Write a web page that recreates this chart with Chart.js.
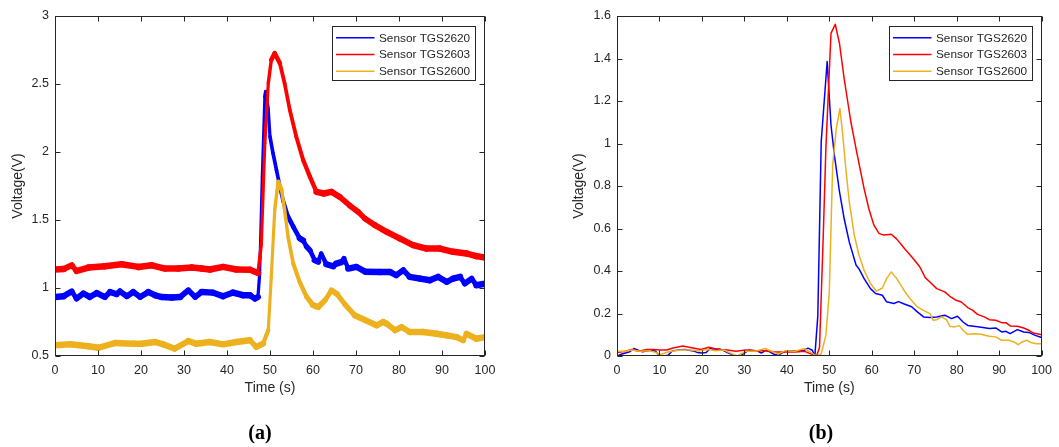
<!DOCTYPE html>
<html>
<head>
<meta charset="utf-8">
<title>Sensor response</title>
<script src="https://cdn.jsdelivr.net/npm/chart.js@4.4.1/dist/chart.umd.min.js"></script>
<style>
  html, body { margin: 0; padding: 0; background: #fff; }
  body { width: 1059px; height: 447px; position: relative; overflow: hidden; }
  canvas { position: absolute; top: 0; }
  #chartA { left: 0; }
  #chartB { left: 530px; }
  .panel-label {
    position: absolute; top: 421px; width: 60px; margin-left: -30px;
    text-align: center; font: bold 20px "Liberation Serif", serif; color: #000;
  }
</style>
</head>
<body>
<canvas id="chartA" width="530" height="447"></canvas>
<canvas id="chartB" width="529" height="447"></canvas>
<div class="panel-label" style="left:260px">(a)</div>
<div class="panel-label" style="left:821px">(b)</div>

<script>
// Legend names, in plotting order
const sensorNames = ['Sensor TGS2620', 'Sensor TGS2603', 'Sensor TGS2600'];

// (a) raw sensor voltage, time in seconds
const rawT2620 = [0, 2, 3.9, 5, 6.6, 8.1, 9.7, 11.6, 12.8, 14.3, 15.1, 16.7, 18.2, 19.8, 21.7, 23.3, 24.8, 27.1, 29.1, 31, 32.6, 34.1, 36.7, 39.1, 41.4, 43.7, 45.3, 46.5, 47.2, 47.6, 48.2, 48.8, 49, 49.6, 50, 50.7, 51.5, 52.3, 53, 54.2, 55.4, 56.9, 57.7, 58.5, 59.3, 60.4, 61.2, 61.9, 63.1, 64.7, 65.4, 66.6, 67.2, 68.2, 70.1, 72.2, 75.5, 77.9, 79.4, 81, 82.5, 84.9, 87.2, 89.1, 91.1, 92.6, 94.2, 95.3, 96.9, 98, 100];
const rawV2620 = [0.934, 0.94, 0.975, 0.922, 0.96, 0.934, 0.963, 0.934, 0.971, 0.955, 0.975, 0.94, 0.971, 0.934, 0.971, 0.946, 0.934, 0.93, 0.934, 0.983, 0.934, 0.971, 0.966, 0.94, 0.966, 0.947, 0.947, 0.922, 0.934, 1.106, 1.818, 2.407, 2.444, 2.31, 2.113, 1.991, 1.868, 1.745, 1.647, 1.525, 1.451, 1.365, 1.35, 1.304, 1.277, 1.204, 1.193, 1.253, 1.175, 1.16, 1.179, 1.19, 1.218, 1.143, 1.155, 1.12, 1.118, 1.118, 1.094, 1.131, 1.082, 1.069, 1.057, 1.082, 1.045, 1.069, 1.082, 1.032, 1.069, 1.02, 1.032];

const rawT2603 = [0, 2, 3.9, 5, 7.8, 11.6, 15.5, 19.4, 22.5, 25.6, 28.7, 31.8, 34.1, 36, 39.1, 42.2, 45.3, 47.2, 48, 48.8, 49.6, 50.3, 51.1, 52.3, 53.4, 54.6, 56.1, 57.7, 59.3, 60.8, 62.4, 64.3, 66.2, 68.6, 70.5, 72.1, 74.4, 77.1, 80.2, 83.3, 86.4, 89.5, 92.6, 95.7, 98, 100];
const rawV2603 = [1.136, 1.14, 1.167, 1.125, 1.15, 1.16, 1.175, 1.155, 1.167, 1.143, 1.143, 1.15, 1.143, 1.136, 1.156, 1.136, 1.135, 1.11, 1.327, 2.063, 2.505, 2.677, 2.726, 2.653, 2.505, 2.31, 2.114, 1.942, 1.817, 1.707, 1.695, 1.707, 1.67, 1.605, 1.56, 1.51, 1.462, 1.413, 1.364, 1.315, 1.29, 1.29, 1.266, 1.254, 1.234, 1.224];

const rawT2600 = [0, 3.5, 7.8, 10.1, 14, 18.2, 20.2, 23.3, 25.1, 27.8, 31, 32.9, 36, 39.1, 42.2, 45.3, 46.8, 48.4, 49.6, 50.3, 51.1, 51.9, 52.7, 53.4, 54.2, 55.4, 56.9, 58.5, 60, 61.2, 62.8, 64.3, 65.6, 67.4, 69.7, 72.1, 74.8, 76.3, 77.1, 79.1, 80.6, 82.5, 85.6, 88.7, 91.1, 93.4, 94.9, 95.7, 98, 100];
const rawV2600 = [0.579, 0.586, 0.572, 0.561, 0.596, 0.59, 0.59, 0.603, 0.586, 0.554, 0.61, 0.59, 0.603, 0.586, 0.603, 0.616, 0.567, 0.592, 0.69, 1.082, 1.573, 1.782, 1.72, 1.573, 1.377, 1.181, 1.045, 0.936, 0.874, 0.86, 0.91, 0.983, 0.955, 0.88, 0.799, 0.765, 0.725, 0.75, 0.738, 0.689, 0.713, 0.676, 0.676, 0.664, 0.652, 0.639, 0.615, 0.664, 0.627, 0.639];

// (b) baseline-corrected, filtered response
const fltT2620 = [0, 1, 3, 4, 5, 6, 8, 9, 10, 11, 12, 13, 15, 16, 18, 19, 20, 21, 22, 23, 24, 25, 26, 27, 28, 29, 30, 31, 33, 34, 35, 36, 37, 38, 39, 40, 42, 44, 45, 46, 46.6, 47.3, 48.1, 49.5, 50.4, 51.2, 52.4, 53.5, 54.7, 56.3, 57, 58.2, 59.7, 60.9, 62.5, 63.5, 65.2, 66.3, 67.5, 69.4, 70.6, 72.2, 73.7, 75.3, 77.2, 78.8, 80.2, 81.5, 82.6, 85.4, 87.7, 89.2, 90.6, 91.6, 92.6, 94.3, 95.8, 97, 98.5, 100];
const fltV2620 = [0, 0.008, 0.02, 0.035, 0.027, 0.02, 0.027, 0.024, 0.003, 0, 0.003, 0.024, 0.03, 0.031, 0.024, 0.016, 0.014, 0.016, 0.037, 0.027, 0.033, 0.027, 0.016, 0.008, 0, 0, 0.014, 0.028, 0.024, 0.014, 0.026, 0.02, 0.008, 0.004, 0.016, 0.024, 0.024, 0.026, 0.037, 0.027, 0, 0.19, 1.008, 1.386, 1.087, 0.945, 0.773, 0.647, 0.537, 0.428, 0.41, 0.364, 0.317, 0.294, 0.286, 0.255, 0.247, 0.256, 0.246, 0.232, 0.21, 0.184, 0.181, 0.184, 0.192, 0.176, 0.187, 0.16, 0.144, 0.137, 0.129, 0.132, 0.113, 0.116, 0.105, 0.124, 0.113, 0.111, 0.097, 0.087];

const fltT2603 = [0, 2, 3.5, 5.1, 7, 8.6, 10.1, 11.7, 13.2, 15.5, 17.9, 19.8, 21.6, 22.9, 24.5, 26, 28, 30.3, 32.6, 34.9, 37.3, 39.6, 41.9, 44.2, 45.8, 47, 47.7, 48.6, 49.2, 50.4, 51.4, 52.4, 53.5, 55.1, 56.6, 58.2, 59.3, 60.5, 61.7, 62.8, 64.6, 65.9, 67.7, 69.7, 71.3, 72.6, 73.7, 75.3, 77.2, 78.4, 79.9, 81.1, 82.6, 83.8, 84.9, 86.5, 87.7, 89.2, 90.6, 91.6, 92.7, 94.3, 95.8, 97, 98.1, 100];
const fltV2603 = [0.016, 0.022, 0.031, 0.022, 0.031, 0.031, 0.028, 0.028, 0.038, 0.047, 0.038, 0.031, 0.041, 0.035, 0.031, 0.028, 0.022, 0.028, 0.025, 0.025, 0.019, 0.019, 0.019, 0.022, 0.009, 0, 0.04, 0.58, 0.977, 1.518, 1.561, 1.471, 1.306, 1.1, 0.945, 0.788, 0.694, 0.616, 0.577, 0.569, 0.573, 0.55, 0.506, 0.46, 0.42, 0.369, 0.348, 0.317, 0.302, 0.281, 0.262, 0.254, 0.228, 0.215, 0.196, 0.184, 0.171, 0.168, 0.157, 0.157, 0.141, 0.14, 0.132, 0.121, 0.108, 0.1];

const fltT2600 = [0, 2, 3.5, 5.4, 7.7, 9.3, 10.1, 12, 14.8, 17.1, 19.4, 21.6, 23.3, 25.2, 27.2, 28.3, 30.3, 32.6, 34.9, 36.8, 38, 39.6, 41.9, 44.2, 45.8, 47, 48.1, 49.2, 50, 50.8, 51.6, 52.5, 53.1, 53.9, 54.7, 55.9, 57, 58.2, 59.7, 61.1, 62.5, 63.5, 64.6, 65.9, 67.5, 69, 70.6, 72.2, 73.7, 74.5, 75.3, 76.4, 77.6, 78.4, 79.5, 80.6, 81.5, 82.6, 84.2, 85.7, 87.7, 89.2, 90.6, 92.3, 93.5, 94.5, 95.4, 96.5, 97.7, 98.8, 100];
const fltV2600 = [0.022, 0.022, 0.028, 0.022, 0.025, 0.016, 0.006, 0.019, 0.028, 0.028, 0.025, 0.031, 0.025, 0.028, 0.009, 0, 0.022, 0.022, 0.035, 0.019, 0.009, 0.025, 0.022, 0.035, 0.016, 0, 0.01, 0.097, 0.3, 0.898, 1.063, 1.165, 1.055, 0.882, 0.726, 0.568, 0.474, 0.403, 0.341, 0.305, 0.32, 0.364, 0.396, 0.364, 0.312, 0.27, 0.234, 0.215, 0.199, 0.168, 0.171, 0.184, 0.171, 0.14, 0.137, 0.143, 0.121, 0.102, 0.105, 0.102, 0.093, 0.09, 0.074, 0.074, 0.066, 0.053, 0.066, 0.074, 0.062, 0.058, 0.058];

// MATLAB default look
const lineColors = ['#0000ff', '#ff0000', '#edb120'];
const axisColor = '#262626';
const fontFamily = '"Liberation Sans", Arial, Helvetica, sans-serif';
const tickLen = 5;

function toPoints(ts, vs) {
    return ts.map((t, i) => ({ x: t, y: vs[i] }));
}

function fmtTick(v) {
    return String(+v.toFixed(2));
}

// Raw traces are a noisy band that is mostly vertical, so steep
// segments come out thinner than flat ones.
function bandWidth(band) {
    const core = 3;
    return c => {
        const dx = c.p1.x - c.p0.x, dy = c.p1.y - c.p0.y;
        const len = Math.hypot(dx, dy) || 1;
        return core + (band - core) * Math.abs(dx) / len;
    };
}

// Box, inward ticks on all four sides and the legend
const matlabAxes = {
    id: 'matlabAxes',
    afterDatasetsDraw(chart) {
        const { ctx, chartArea: a, scales: { x, y } } = chart;
        const L = Math.round(a.left) + 0.5, R = Math.round(a.right) - 0.5;
        const T = Math.round(a.top) + 0.5, B = Math.round(a.bottom) - 0.5;
        ctx.save();
        ctx.strokeStyle = axisColor;
        ctx.lineWidth = 1;
        ctx.beginPath();
        x.ticks.forEach(t => {
            const px = Math.round(x.getPixelForValue(t.value)) + 0.5;
            ctx.moveTo(px, B); ctx.lineTo(px, B - tickLen);
            ctx.moveTo(px, T); ctx.lineTo(px, T + tickLen);
        });
        y.ticks.forEach(t => {
            const py = Math.round(y.getPixelForValue(t.value)) + 0.5;
            ctx.moveTo(L, py); ctx.lineTo(L + tickLen, py);
            ctx.moveTo(R, py); ctx.lineTo(R - tickLen, py);
        });
        ctx.stroke();
        ctx.strokeRect(L, T, R - L, B - T);

        // legend box in the upper right corner
        const w = 143, h = 54;
        const bx = Math.round(a.right - 10 - w) + 0.5, by = Math.round(a.top + 10) + 0.5;
        ctx.fillStyle = '#fff';
        ctx.fillRect(bx, by, w, h);
        ctx.strokeStyle = axisColor;
        ctx.strokeRect(bx, by, w, h);
        ctx.font = '11.8px ' + fontFamily;
        ctx.textBaseline = 'middle';
        ctx.textAlign = 'left';
        chart.data.datasets.forEach((ds, i) => {
            const ry = by + 11.3 + i * 16.7;
            ctx.strokeStyle = ds.borderColor;
            ctx.lineWidth = 1.5;
            ctx.beginPath();
            ctx.moveTo(bx + 3.5, ry); ctx.lineTo(bx + 42, ry);
            ctx.stroke();
            ctx.fillStyle = axisColor;
            ctx.fillText(ds.label, bx + 46.5, ry + 0.5);
        });
        ctx.restore();
    }
};

function makePanel(id, series, yRange, band, box) {
    const datasets = series.map((s, i) => {
        const ds = {
            label: sensorNames[i],
            data: toPoints(s[0], s[1]),
            borderColor: lineColors[i],
            backgroundColor: lineColors[i],
            borderWidth: band > 0 ? band : 1.5,
            borderCapStyle: 'round',
            borderJoinStyle: 'round',
            pointRadius: 0,
            tension: 0,
            fill: false,
            order: series.length - i
        };
        if (band > 0) ds.segment = { borderWidth: bandWidth(band) };
        return ds;
    });
    return new Chart(document.getElementById(id), {
        type: 'line',
        data: { datasets },
        plugins: [matlabAxes],
        options: {
            responsive: false,
            animation: false,
            devicePixelRatio: 1,
            events: [],
            layout: { padding: { left: 0, top: 16, right: box.right, bottom: 47 } },
            plugins: { legend: { display: false }, tooltip: { enabled: false } },
            scales: {
                x: {
                    type: 'linear',
                    min: 0, max: 100,
                    afterFit(scale) { scale.height = 44; },
                    grid: { display: false, drawTicks: false },
                    border: { display: false },
                    ticks: {
                        stepSize: 10, autoSkip: false, maxRotation: 0, padding: 7,
                        color: axisColor, font: { family: fontFamily, size: 12.5 },
                        callback: fmtTick
                    },
                    title: {
                        display: true, text: 'Time (s)', color: axisColor,
                        font: { family: fontFamily, size: 14 },
                        padding: { top: 0, bottom: 3.6 }
                    }
                },
                y: {
                    type: 'linear',
                    min: yRange[0], max: yRange[1],
                    afterFit(scale) { scale.width = box.left; },
                    grid: { display: false, drawTicks: false },
                    border: { display: false },
                    ticks: {
                        stepSize: yRange[2], padding: 6,
                        color: axisColor, font: { family: fontFamily, size: 12.5 },
                        callback: fmtTick
                    },
                    title: {
                        display: true, text: 'Voltage(V)', color: axisColor,
                        font: { family: fontFamily, size: 14 },
                        padding: { top: box.titleX - 8.4, bottom: 0 }
                    }
                }
            }
        }
    });
}

makePanel('chartA',
    [[rawT2620, rawV2620], [rawT2603, rawV2603], [rawT2600, rawV2600]],
    [0.5, 3, 0.5], 6.5, { left: 55, right: 45, titleX: 18.6 });

makePanel('chartB',
    [[fltT2620, fltV2620], [fltT2603, fltV2603], [fltT2600, fltV2600]],
    [0, 1.6, 0.2], 0, { left: 87, right: 13, titleX: 49 });
</script>
</body>
</html>
